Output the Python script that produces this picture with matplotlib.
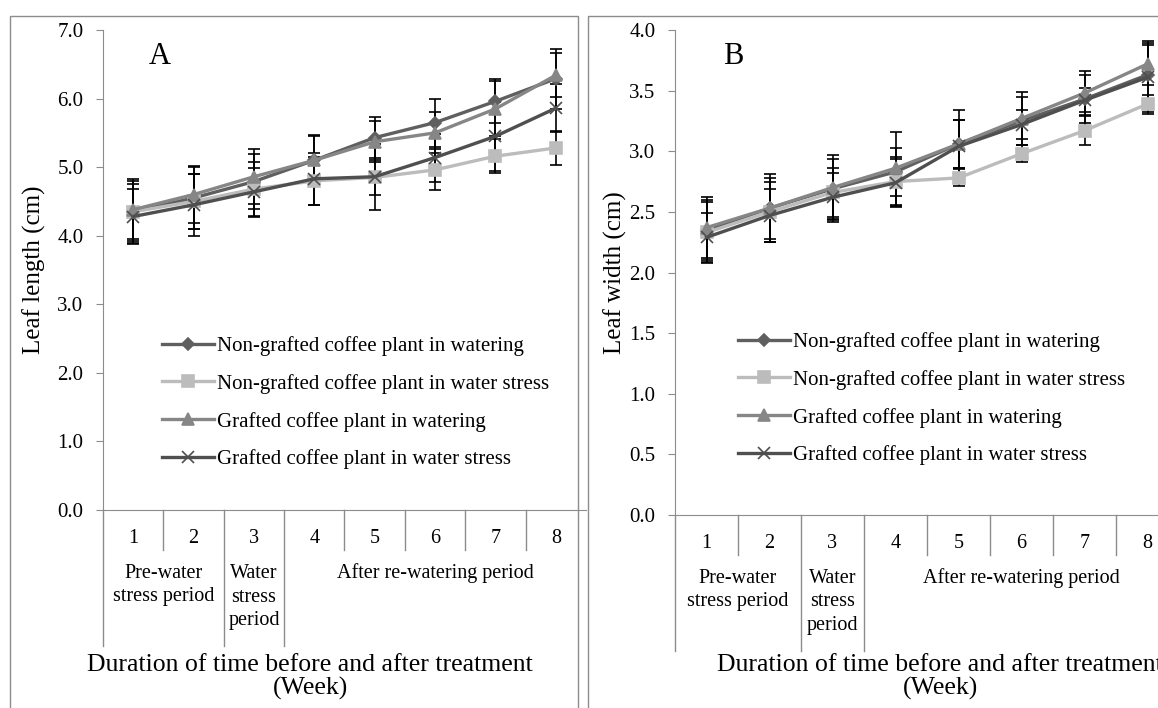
import numpy as np
import matplotlib.pyplot as plt
from matplotlib.patches import Rectangle

plt.rcParams['font.family'] = ['Liberation Serif', 'DejaVu Serif']

weeks = [1, 2, 3, 4, 5, 6, 7, 8]
labels = ['Non-grafted coffee plant in watering',
          'Non-grafted coffee plant in water stress',
          'Grafted coffee plant in watering',
          'Grafted coffee plant in water stress']

# leaf length (cm)
len_ngw = [4.35, 4.55, 4.79, 5.10, 5.43, 5.65, 5.96, 6.29]
len_ngs = [4.35, 4.50, 4.68, 4.80, 4.85, 4.96, 5.16, 5.28]
len_gw = [4.38, 4.60, 4.86, 5.10, 5.37, 5.50, 5.85, 6.34]
len_gs = [4.28, 4.45, 4.64, 4.83, 4.86, 5.14, 5.45, 5.86]
len_ngw_err = [0.45, 0.45, 0.40, 0.37, 0.30, 0.35, 0.32, 0.44]
len_ngs_err = [0.40, 0.40, 0.40, 0.35, 0.25, 0.30, 0.25, 0.25]
len_gw_err = [0.45, 0.42, 0.40, 0.36, 0.30, 0.30, 0.40, 0.32]
len_gs_err = [0.40, 0.45, 0.35, 0.38, 0.48, 0.35, 0.50, 0.35]

# leaf width (cm)
wid_ngw = [2.35, 2.53, 2.69, 2.83, 3.06, 3.25, 3.43, 3.63]
wid_ngs = [2.33, 2.50, 2.66, 2.75, 2.78, 2.98, 3.17, 3.39]
wid_gw = [2.37, 2.53, 2.70, 2.86, 3.06, 3.27, 3.48, 3.72]
wid_gs = [2.29, 2.47, 2.62, 2.74, 3.04, 3.22, 3.42, 3.61]
wid_ngw_err = [0.25, 0.25, 0.25, 0.20, 0.20, 0.20, 0.20, 0.25]
wid_ngs_err = [0.25, 0.25, 0.20, 0.20, 0.07, 0.07, 0.12, 0.07]
wid_gw_err = [0.25, 0.28, 0.27, 0.30, 0.20, 0.22, 0.18, 0.17]
wid_gs_err = [0.20, 0.22, 0.20, 0.20, 0.30, 0.12, 0.10, 0.30]

colors = ['#5f5f5f', '#bcbcbc', '#868686', '#4f4f4f']
markers = ['D', 's', '^', 'x']
msizes = [6, 8, 8, 9]

W, H = 1158, 708
fig = plt.figure(figsize=(W / 100, H / 100), dpi=100)

# panel frames
fig.add_artist(Rectangle((10 / W, -0.1), 568 / W, 1.1 - 16 / H, transform=fig.transFigure,
                         fill=False, edgecolor='#8c8c8c', lw=1))
fig.add_artist(Rectangle((588 / W, -0.1), 0.5, 1.1 - 16 / H, transform=fig.transFigure,
                         fill=False, edgecolor='#8c8c8c', lw=1))

axA = fig.add_axes([103 / W, 1 - 510 / H, 483 / W, 480 / H])
axB = fig.add_axes([675 / W, 1 - 515 / H, 504 / W, 485 / H])


def draw(ax, series, errs, ymax, ystep, ylabel, letter, axh, lpad):
    for i in range(4):
        ax.errorbar(weeks, series[i], yerr=errs[i], fmt='none', ecolor='black',
                    elinewidth=1.2, capsize=4.5, capthick=1.2, zorder=2)
    for i in range(4):
        ax.plot(weeks, series[i], color=colors[i], lw=2.4, marker=markers[i],
                ms=msizes[i], mew=1.2, mec=colors[i], mfc=colors[i],
                label=labels[i], zorder=3)
    ax.set_xlim(0.5, 8.5)
    ax.set_ylim(0, ymax)
    ax.set_yticks(np.arange(0, ymax + 0.001, ystep))
    ax.set_yticklabels(['%.1f' % v for v in np.arange(0, ymax + 0.001, ystep)])
    ax.set_xticks(weeks)
    ax.tick_params(axis='x', length=0, pad=14, labelsize=14.5)
    ax.tick_params(axis='y', length=5, color='#8c8c8c', direction='out', pad=9, labelsize=15)
    for s in ['top', 'right']:
        ax.spines[s].set_visible(False)
    for s in ['left', 'bottom']:
        ax.spines[s].set_color('#8c8c8c')
    ax.set_ylabel(ylabel, fontsize=18, labelpad=lpad)
    # category separators
    tr = ax.get_xaxis_transform()
    for xb in [1.5, 4.5, 5.5, 6.5, 7.5]:
        ax.plot([xb, xb], [0, -40 / axh], transform=tr, color='#8c8c8c', lw=1, clip_on=False)
    for xb in [0.5, 2.5, 3.5]:
        ax.plot([xb, xb], [0, -136 / axh], transform=tr, color='#8c8c8c', lw=1, clip_on=False)
    ax.text(1.5, -75 / axh, 'Pre-water\nstress period', transform=tr, ha='center', va='center',
            fontsize=14.5, linespacing=1.3)
    ax.text(3.0, -87 / axh, 'Water\nstress\nperiod', transform=tr, ha='center', va='center',
            fontsize=14.5, linespacing=1.3)
    ax.text(6.0, -63 / axh, 'After re-watering period', transform=tr, ha='center', va='center',
            fontsize=14.5)
    ax.text(0.095, 0.945, letter, transform=ax.transAxes, fontsize=22, va='center')


draw(axA, [len_ngw, len_ngs, len_gw, len_gs],
     [len_ngw_err, len_ngs_err, len_gw_err, len_gs_err], 7.0, 1.0, 'Leaf length (cm)', 'A', 480, 8)
draw(axB, [wid_ngw, wid_ngs, wid_gw, wid_gs],
     [wid_ngw_err, wid_ngs_err, wid_gw_err, wid_gs_err], 4.0, 0.5, 'Leaf width (cm)', 'B', 485, 2)

axA.legend(loc='upper left', bbox_to_anchor=((162 - 103) / 483, (510 - 336) / 480),
           frameon=False, fontsize=15, handlelength=2.5, handletextpad=0.15,
           labelspacing=0.86, borderaxespad=0, borderpad=0)
axB.legend(loc='upper left', bbox_to_anchor=((738 - 675) / 504, (515 - 332) / 485),
           frameon=False, fontsize=15, handlelength=2.5, handletextpad=0.15,
           labelspacing=0.86, borderaxespad=0, borderpad=0)

fig.text(310 / W, 1 - 677 / H, 'Duration of time before and after treatment\n(Week)',
         ha='center', va='center', fontsize=18.5, linespacing=1.05)
fig.text(940 / W, 1 - 677 / H, 'Duration of time before and after treatment\n(Week)',
         ha='center', va='center', fontsize=18.5, linespacing=1.05)

fig.savefig('out.png', dpi=100)
